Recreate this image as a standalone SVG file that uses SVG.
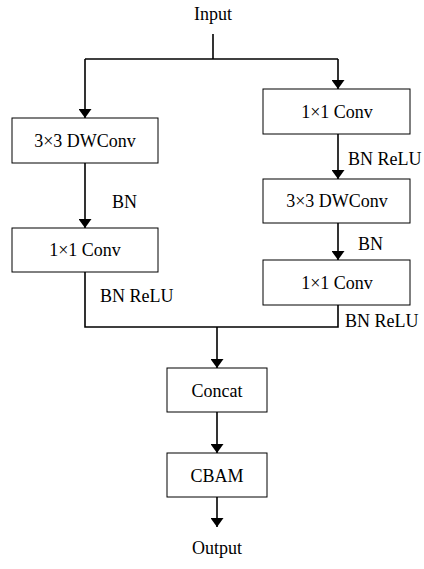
<svg xmlns="http://www.w3.org/2000/svg" width="424" height="569" viewBox="0 0 424 569">
  <style>
    .box { fill: #ffffff; stroke: #000000; stroke-width: 1; }
    .wire { fill: none; stroke: #000000; stroke-width: 1.6; }
    .lbl { font-family: "Liberation Serif", "Times New Roman", serif; font-size: 18px; fill: #000000; }
    .mid { text-anchor: middle; }
  </style>
  <defs>
    <!-- downward arrowhead, tip at the end of the line -->
    <marker id="arrow" viewBox="0 0 9 13" refX="9" refY="6.5" markerWidth="9" markerHeight="13" markerUnits="userSpaceOnUse" orient="auto">
      <path d="M0,0 L9,6.5 L0,13 Z" fill="#000000"/>
    </marker>
  </defs>
  <rect width="424" height="569" fill="#ffffff"/>

  <g id="connectors">
    <!-- input split -->
    <polyline class="wire" points="213,34 213,59"/>
    <polyline class="wire" points="85,59 338,59"/>
    <polyline class="wire" points="85,59 85,118" marker-end="url(#arrow)"/>
    <polyline class="wire" points="338,59 338,89" marker-end="url(#arrow)"/>
    <!-- left branch -->
    <polyline class="wire" points="85,163 85,228" marker-end="url(#arrow)"/>
    <!-- right branch -->
    <polyline class="wire" points="338,134 338,179" marker-end="url(#arrow)"/>
    <polyline class="wire" points="338,223 338,260" marker-end="url(#arrow)"/>
    <!-- merge -->
    <polyline class="wire" points="85,272 85,327 338,327 338,305"/>
    <polyline class="wire" points="217,327 217,368" marker-end="url(#arrow)"/>
    <polyline class="wire" points="217,412 217,453" marker-end="url(#arrow)"/>
    <polyline class="wire" points="217,497 217,527" marker-end="url(#arrow)"/>
  </g>

  <g id="input">
    <text class="lbl mid" x="213" y="20">Input</text>
  </g>
  <g id="left-dwconv">
    <rect class="box" x="12" y="118" width="146" height="45"/>
    <text class="lbl mid" x="85" y="147">3×3 DWConv</text>
  </g>
  <g id="left-bn">
    <text class="lbl" x="112" y="208">BN</text>
  </g>
  <g id="left-conv">
    <rect class="box" x="12" y="228" width="146" height="44"/>
    <text class="lbl mid" x="85" y="256">1×1 Conv</text>
  </g>
  <g id="left-bnrelu">
    <text class="lbl" x="100" y="302">BN ReLU</text>
  </g>

  <g id="right-conv1">
    <rect class="box" x="263" y="89" width="147" height="45"/>
    <text class="lbl mid" x="337" y="118">1×1 Conv</text>
  </g>
  <g id="right-bnrelu1">
    <text class="lbl" x="348" y="165">BN ReLU</text>
  </g>
  <g id="right-dwconv">
    <rect class="box" x="263" y="179" width="147" height="44"/>
    <text class="lbl mid" x="337" y="207">3×3 DWConv</text>
  </g>
  <g id="right-bn">
    <text class="lbl" x="358" y="250">BN</text>
  </g>
  <g id="right-conv2">
    <rect class="box" x="263" y="260" width="147" height="45"/>
    <text class="lbl mid" x="337" y="289">1×1 Conv</text>
  </g>
  <g id="right-bnrelu2">
    <text class="lbl" x="345" y="327">BN ReLU</text>
  </g>

  <g id="concat">
    <rect class="box" x="167" y="368" width="100" height="44"/>
    <text class="lbl mid" x="217" y="397">Concat</text>
  </g>
  <g id="cbam">
    <rect class="box" x="167" y="453" width="100" height="44"/>
    <text class="lbl mid" x="217" y="482">CBAM</text>
  </g>
  <g id="output">
    <text class="lbl mid" x="217" y="554">Output</text>
  </g>
</svg>
